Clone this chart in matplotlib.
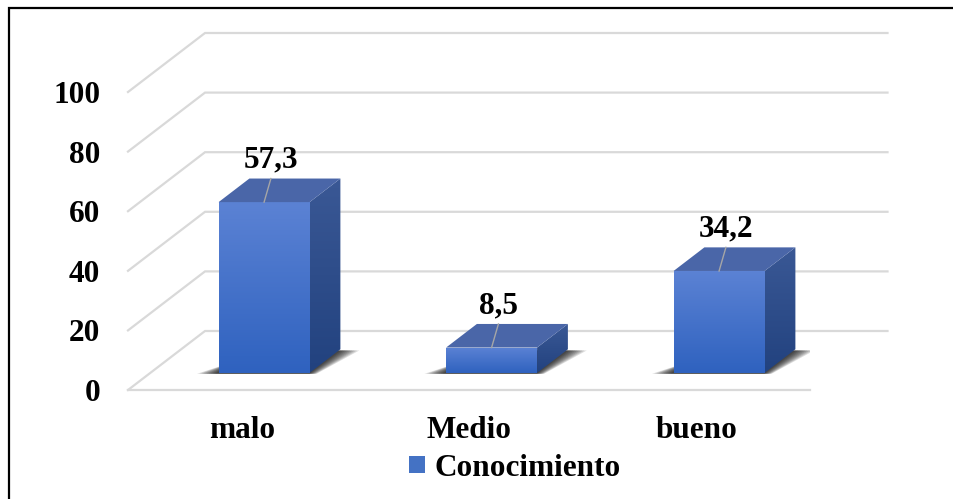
import numpy as np
import matplotlib.pyplot as plt
from matplotlib.patches import Polygon, Rectangle
from matplotlib.colors import to_rgb

# -----------------------------
# DATA
# -----------------------------
categories = ['malo', 'Medio', 'bueno']
values = [57.3, 8.5, 34.2]
series_name = 'Conocimiento'
yticks = [0, 20, 40, 60, 80, 100]

# -----------------------------
# STYLE / FAKE 3D GEOMETRY
# -----------------------------
plt.rcParams['font.family'] = ['Liberation Serif', 'DejaVu Serif']
plt.rcParams['font.weight'] = 'bold'
FS = 22.5

DX = 0.3385     # shift of the back wall in category units
DY = 19.8       # shift of the back wall in value units
D0, D1 = 0.29, 0.69   # depth of bar front / back faces
HALF_W = 0.2

grid_col = '#d9d9d9'
front_top, front_bot = '#5b82d4', '#2f62bf'
side_top, side_bot = '#3a5895', '#22427f'
top_col = '#4a66a8'


def proj(x, v, d):
    return x + d * DX, v + d * DY


def gradient(ax, poly, c_top, c_bot, z):
    xs, ys = poly[:, 0], poly[:, 1]
    ramp = np.linspace(0, 1, 64)[:, None, None]
    img = np.array(to_rgb(c_top))[None, None, :] * (1 - ramp) + \
        np.array(to_rgb(c_bot))[None, None, :] * ramp
    patch = Polygon(poly, closed=True, facecolor='none', edgecolor='none',
                    zorder=z)
    ax.add_patch(patch)
    im = ax.imshow(img, extent=[xs.min(), xs.max(), ys.min(), ys.max()],
                   origin='upper', aspect='auto', zorder=z,
                   interpolation='bilinear')
    im.set_clip_path(patch)


fig = plt.figure(figsize=(9.54, 4.99), dpi=100)
ax = fig.add_axes([128 / 954, 109 / 499, 682.5 / 954, 298 / 499])
ax.set_facecolor('none')
for s in ax.spines.values():
    s.set_visible(False)

x_lo, x_hi = -0.5, len(categories) - 0.5

# side wall + back wall gridlines
for t in yticks:
    bx, by = proj(x_lo, t, 1)
    ex, ey = proj(x_hi, t, 1)
    ax.plot([x_lo, bx, ex], [t, by, ey], color=grid_col, lw=1.6,
            zorder=1, clip_on=False, solid_joinstyle='miter')
# front edge of the floor
ax.plot([x_lo, x_hi], [0, 0], color=grid_col, lw=1.6, zorder=1,
        clip_on=False)

# bars
for i, v in enumerate(values):
    xl, xr = i - HALF_W, i + HALF_W

    # soft shadow on the floor
    for k in range(9):
        e = 0.01 * (9 - k)
        foot = np.array([proj(xl - e, 0, D0 - 0.015), proj(xr + e * 0.4, 0, D0 - 0.015),
                         proj(xr + e, 0, D1 - 0.02), proj(xl + e, 0, D1 - 0.02)])
        ax.add_patch(Polygon(foot, closed=True, facecolor='black',
                             edgecolor='none', alpha=0.13, zorder=2))

    front = np.array([proj(xl, 0, D0), proj(xr, 0, D0),
                      proj(xr, v, D0), proj(xl, v, D0)])
    side = np.array([proj(xr, 0, D0), proj(xr, 0, D1),
                     proj(xr, v, D1), proj(xr, v, D0)])
    top = np.array([proj(xl, v, D0), proj(xr, v, D0),
                    proj(xr, v, D1), proj(xl, v, D1)])

    gradient(ax, side, side_top, side_bot, 3)
    gradient(ax, front, front_top, front_bot, 4)
    ax.add_patch(Polygon(top, closed=True, facecolor=top_col,
                         edgecolor='none', zorder=4))

    # data label with leader line
    fx, fy = proj(i, v, D0)
    lx = fx + 0.03
    _, back_y = proj(i, v, D1)
    ax.plot([fx, lx], [fy, back_y], color='#a6a6a6', lw=1.0, zorder=5)
    ax.text(lx, back_y + 3.7, f'{v:.1f}'.replace('.', ','), ha='center',
            va='baseline', fontsize=FS, fontweight='bold', zorder=6)

ax.set_xlim(x_lo, x_hi)
ax.set_ylim(0, 100)
ax.set_yticks(yticks)
ax.set_xticks(range(len(categories)))
ax.set_xticklabels(categories)
ax.tick_params(axis='both', length=0, labelsize=FS)
ax.tick_params(axis='y', pad=20)
ax.tick_params(axis='x', pad=19)

# legend
handle = Rectangle((0, 0), 1, 1, facecolor='#4472c4', edgecolor='none')
fig.legend([handle], [series_name], loc='center',
           bbox_to_anchor=(515 / 954, 1 - 468 / 499), frameon=False,
           fontsize=FS, handlelength=0.5, handleheight=0.5,
           handletextpad=0.3, borderpad=0, borderaxespad=0)

# chart border
fig.patches.append(Rectangle((9 / 954, -0.2), 1.2, 0.2 + 491 / 499,
                             transform=fig.transFigure, fill=False,
                             edgecolor='black', lw=1.6))

fig.savefig('out.png', dpi=100)
